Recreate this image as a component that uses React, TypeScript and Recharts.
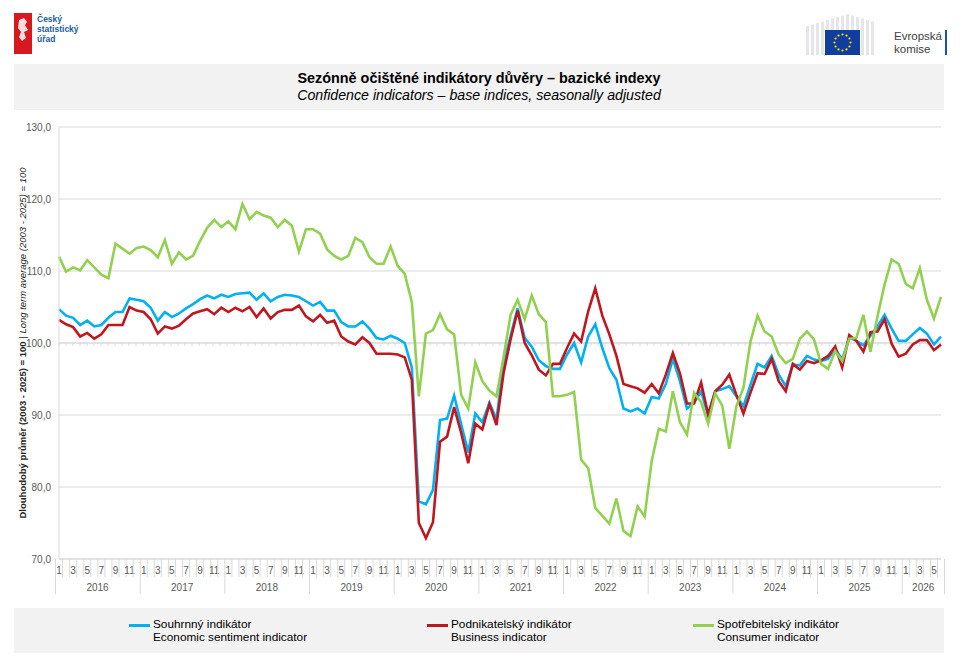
import { LineChart, Line, XAxis, YAxis, CartesianGrid, ReferenceLine } from "recharts";

// monthly base indices, long-term average (2003-2025) = 100
const years = [2016, 2017, 2018, 2019, 2020, 2021, 2022, 2023, 2024, 2025, 2026];
const lastMonth = 6;

const souhrnny = [
  104.7, 103.8, 103.5, 102.5, 103.1, 102.3, 102.5, 103.5, 104.3, 104.3, 106.2, 106.0,
  105.8, 104.9, 103.1, 104.3, 103.6, 104.1, 104.8, 105.4, 106.1, 106.6, 106.2, 106.7,
  106.4, 106.8, 106.9, 107.0, 106.0, 106.9, 105.8, 106.4, 106.7, 106.6, 106.4, 105.8,
  105.2, 105.7, 104.5, 104.5, 102.9, 102.3, 102.3, 103.0, 102.0, 100.7, 100.5, 101.0,
  100.6, 100.0, 96.6, 78.0, 77.6, 79.6, 89.3, 89.5, 92.7, 88.7, 84.8, 90.2,
  89.0, 91.7, 89.4, 97.0, 101.0, 104.8, 100.7, 99.5, 97.6, 96.8, 96.4, 96.4,
  98.4, 100.0, 97.3, 100.9, 102.6, 99.3, 96.5, 94.9, 90.9, 90.5, 90.9, 90.2,
  92.5, 92.3, 94.3, 97.8, 94.7, 90.9, 91.7, 93.3, 89.9, 93.3, 93.6, 94.0,
  92.6, 91.2, 94.2, 97.1, 96.6, 98.2, 95.6, 94.0, 97.0, 96.9, 98.2, 97.7,
  97.5, 97.8, 99.2, 97.7, 100.8, 100.3, 99.7, 101.0, 102.3, 103.9, 102.0, 100.3,
  100.3, 101.2, 102.1, 101.3, 99.8, 100.9,
];

const podnikatelsky = [
  103.2, 102.6, 102.2, 100.9, 101.4, 100.6, 101.2, 102.5, 102.5, 102.5, 105.0, 104.5,
  104.3, 103.3, 101.3, 102.3, 102.0, 102.4, 103.3, 104.1, 104.4, 104.7, 104.0, 104.9,
  104.3, 104.9, 104.4, 105.0, 103.6, 104.8, 103.4, 104.3, 104.6, 104.6, 105.2, 103.7,
  103.0, 103.9, 102.8, 103.1, 100.9, 100.2, 99.8, 100.8, 100.0, 98.5, 98.5, 98.5,
  98.4, 98.0, 94.9, 75.0, 72.9, 75.1, 86.3, 87.0, 91.1, 87.5, 83.3, 88.8,
  88.0, 91.5, 88.6, 95.8, 100.5, 104.5, 100.0, 98.3, 96.3, 95.5, 97.1, 97.1,
  99.3, 101.3, 100.2, 104.4, 107.6, 103.8, 101.2, 98.2, 94.3, 94.0, 93.7, 93.1,
  94.3, 93.0, 95.6, 98.6, 95.8, 91.6, 91.6, 94.5, 90.1, 93.3, 94.2, 95.6,
  92.8, 90.2, 93.1, 95.8, 95.7, 97.8, 94.7, 93.3, 97.1, 96.3, 97.5, 97.2,
  97.6, 98.2, 99.5, 96.6, 101.1, 100.3, 98.8, 101.5, 101.6, 103.3, 99.9, 98.1,
  98.5, 99.8, 100.4, 100.4, 99.0, 99.8,
];

const spotrebitelsky = [
  112.0, 109.9, 110.5, 110.1, 111.5, 110.5, 109.5, 109.0, 113.8, 113.1, 112.4, 113.2,
  113.4, 112.9, 111.9, 114.3, 111.0, 112.6, 111.6, 112.1, 114.2, 116.0, 117.1, 116.1,
  116.9, 115.8, 119.3, 117.2, 118.2, 117.7, 117.4, 116.1, 117.1, 116.3, 112.7, 115.8,
  115.8, 115.2, 113.0, 112.1, 111.6, 112.1, 114.6, 114.0, 111.9, 111.0, 111.0, 113.4,
  110.7, 109.6, 105.7, 92.6, 101.3, 101.8, 104.0, 101.9, 101.2, 92.8, 90.9, 97.3,
  94.7, 93.4, 92.6, 98.0, 103.9, 106.0, 103.3, 106.6, 104.0, 102.9, 92.6, 92.6,
  92.8, 93.2, 83.8, 82.6, 77.1, 76.0, 74.9, 78.4, 73.9, 73.2, 77.3, 75.9,
  83.6, 88.1, 87.7, 93.3, 89.0, 87.3, 93.1, 91.8, 88.8, 93.0, 91.3, 85.3,
  91.2, 93.8, 100.2, 103.8, 101.6, 100.9, 98.4, 97.2, 97.8, 100.6, 101.6, 100.5,
  97.1, 96.4, 98.9, 97.5, 100.6, 100.7, 103.9, 98.8, 103.7, 108.1, 111.6, 111.0,
  108.2, 107.6, 110.4, 106.0, 103.4, 106.4,
];

const yTicks = [70, 80, 90, 100, 110, 120, 130];

const periods = years.flatMap((yr) =>
  Array.from({ length: yr === years[years.length - 1] ? lastMonth : 12 }, (_, m) => `${yr}-${m + 1}`)
);

const chartData = periods.map((period, i) => ({
  period,
  souhrnny: souhrnny[i],
  podnikatelsky: podnikatelsky[i],
  spotrebitelsky: spotrebitelsky[i],
}));

const series = [
  { key: "souhrnny", cz: "Souhrnný indikátor", en: "Economic sentiment indicator", color: "#00b0f0" },
  { key: "podnikatelsky", cz: "Podnikatelský indikátor", en: "Business indicator", color: "#c0161f" },
  { key: "spotrebitelsky", cz: "Spotřebitelský indikátor", en: "Consumer indicator", color: "#92d050" },
];
const legendLeft = [129, 427, 693];

const CHART_W = 960;
const CHART_H = 499;
const MARGIN = { top: 17, right: 19, bottom: 0, left: 0 };
const Y_W = 59;
const STEP = (CHART_W - MARGIN.left - MARGIN.right - Y_W) / periods.length;
const GRID = "#d9d9d9";
const FONT = 'Arial, "Liberation Sans", sans-serif';

const fmt = (v: number) => v.toFixed(1).replace(".", ",");

function MonthTick(props: any) {
  const { x, y, payload, index } = props;
  const [yr, m] = String(payload.value).split("-").map(Number);
  const left = x - STEP / 2;
  const inYear = periods.filter((p) => p.startsWith(`${yr}-`)).length;
  return (
    <g>
      <line x1={left} x2={left} y1={y} y2={y + (m === 1 ? 35 : 18)} stroke={GRID} />
      {index === periods.length - 1 && (
        <line x1={x + STEP / 2} x2={x + STEP / 2} y1={y} y2={y + 35} stroke={GRID} />
      )}
      {m % 2 === 1 && (
        <text x={x} y={y + 15} textAnchor="middle" fontSize={10} fill="#595959" fontFamily={FONT}>
          {m}
        </text>
      )}
      {m === 1 && (
        <text x={left + (inYear * STEP) / 2} y={y + 32} textAnchor="middle" fontSize={10} fill="#595959" fontFamily={FONT}>
          {yr}
        </text>
      )}
    </g>
  );
}

// category axis crossing at 100 with small ticks between months
function CrossAxis(props: any) {
  const { x1, y1, x2 } = props;
  const step = (x2 - x1) / periods.length;
  return (
    <g>
      <line x1={x1} x2={x2} y1={y1} y2={y1} stroke={GRID} />
      {periods.map((_, k) => (
        <line key={k} x1={x1 + k * step} x2={x1 + k * step} y1={y1} y2={y1 + 3} stroke={GRID} />
      ))}
    </g>
  );
}

function AxisTitle(props: any) {
  const { viewBox } = props;
  const cy = viewBox.y + viewBox.height / 2;
  return (
    <text
      x={22}
      y={cy}
      transform={`rotate(-90 22 ${cy})`}
      textAnchor="middle"
      dominantBaseline="central"
      fontSize={9.5}
      fill="#262626"
      fontFamily={FONT}
    >
      <tspan fontWeight="bold">Dlouhodobý průměr (2003 - 2025) = 100</tspan>
      <tspan> | </tspan>
      <tspan fontStyle="italic">Long term average (2003 - 2025) = 100</tspan>
    </text>
  );
}

function Stars() {
  const pts = Array.from({ length: 12 }, (_, k) => {
    const a = (k * Math.PI) / 6;
    return [842.5 + 8 * Math.sin(a), 42.5 - 8 * Math.cos(a)];
  });
  return (
    <>
      {pts.map(([cx, cy], k) => (
        <circle key={k} cx={cx} cy={cy} r={1.1} fill="#ffdd00" />
      ))}
    </>
  );
}

export default function App() {
  return (
    <div style={{ position: "absolute", left: 0, top: 0, width: 960, height: 670, background: "#fff", fontFamily: FONT }}>
      <svg width={960} height={60} style={{ position: "absolute", left: 0, top: 0 }}>
        <rect x={14} y={13} width={18} height={41} fill="#d7191f" />
        <path d="M19 20 l5 -2 l3 4 l-2 3 l3 5 l-4 2 l2 6 l-4 3 l-3 -4 l2 -5 l-3 -4 z" fill="#fff" opacity={0.85} />
        <text x={37} y={22} fontSize={8.5} fontWeight="bold" fill="#1a5aa6" fontFamily={FONT}>Český</text>
        <text x={37} y={32} fontSize={8.5} fontWeight="bold" fill="#1a5aa6" fontFamily={FONT}>statistický</text>
        <text x={37} y={42} fontSize={8.5} fontWeight="bold" fill="#1a5aa6" fontFamily={FONT}>úřad</text>
        {Array.from({ length: 14 }, (_, k) => (
          <rect key={k} x={806 + k * 5} y={14 + Math.abs(k - 8) * 1.5} width={3} height={41 - Math.abs(k - 8) * 1.5} fill="#e4e6e9" />
        ))}
        <rect x={825} y={30} width={35} height={25} fill="#103d9e" />
        <Stars />
        <text x={894} y={40} fontSize={11.5} fill="#404040" fontFamily={FONT}>Evropská</text>
        <text x={894} y={53} fontSize={11.5} fill="#404040" fontFamily={FONT}>komise</text>
        <rect x={945} y={30} width={2} height={25} fill="#1b4fc4" />
      </svg>

      <div
        style={{
          position: "absolute",
          left: 14,
          top: 64,
          width: 930,
          height: 46,
          background: "#f2f2f2",
          textAlign: "center",
          lineHeight: "17px",
          paddingTop: 6,
          boxSizing: "border-box",
          color: "#000",
        }}
      >
        <div style={{ fontWeight: "bold", fontSize: 14.4 }}>Sezónně očištěné indikátory důvěry – bazické indexy</div>
        <div style={{ fontStyle: "italic", fontSize: 14.2 }}>Confidence indicators – base indices, seasonally adjusted</div>
      </div>

      <div style={{ position: "absolute", left: 0, top: 110 }}>
        <LineChart width={CHART_W} height={CHART_H} data={chartData} margin={MARGIN}>
          <CartesianGrid vertical={false} stroke={GRID} />
          <XAxis
            dataKey="period"
            interval={0}
            height={CHART_H - MARGIN.top - 432}
            tick={<MonthTick />}
            tickLine={false}
            tickSize={0}
            tickMargin={0}
            axisLine={{ stroke: GRID }}
          />
          <YAxis
            domain={[70, 130]}
            ticks={yTicks}
            width={Y_W}
            tickFormatter={fmt}
            tick={{ fontSize: 10, fill: "#595959", fontFamily: FONT }}
            tickLine={false}
            tickSize={0}
            tickMargin={8}
            axisLine={{ stroke: GRID }}
            label={{ content: (p: any) => <AxisTitle {...p} /> }}
          />
          <ReferenceLine y={100} shape={(p: any) => <CrossAxis {...p} />} />
          {series.map((s) => (
            <Line
              key={s.key}
              type="linear"
              dataKey={s.key}
              stroke={s.color}
              strokeWidth={2.6}
              dot={false}
              isAnimationActive={false}
            />
          ))}
        </LineChart>
      </div>

      <div style={{ position: "absolute", left: 14, top: 608, width: 930, height: 45, background: "#f2f2f2" }}>
        {series.map((s, i) => (
          <div key={s.key} style={{ position: "absolute", left: legendLeft[i] - 14, top: 10, display: "flex", fontSize: 11.8, lineHeight: "13px", color: "#000" }}>
            <div style={{ width: 21, height: 3, background: s.color, marginTop: 5.5, marginRight: 3 }} />
            <div>
              <div>{s.cz}</div>
              <div>{s.en}</div>
            </div>
          </div>
        ))}
      </div>
    </div>
  );
}
